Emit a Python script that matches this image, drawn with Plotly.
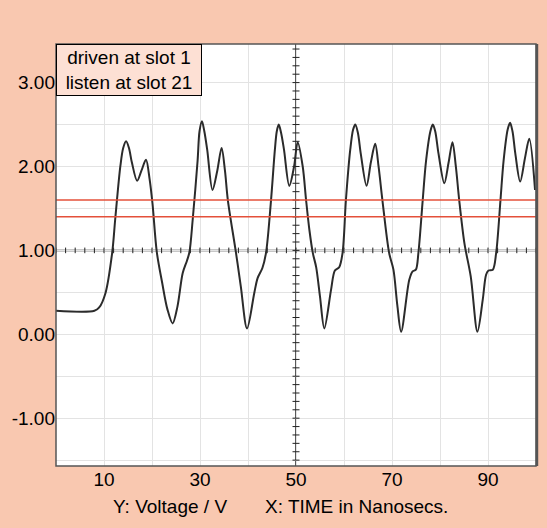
import numpy as np
import plotly.graph_objects as go

# Waveform
time_ns = [0, 8.0, 9.0, 10.3, 11.7, 12.35, 13.4, 14.0, 14.6, 15.2, 15.8, 16.9, 17.8, 18.75, 19.5, 20.1, 21.0,
           22.1, 23.2, 24.3, 25.3, 26.4, 27.3, 27.8, 28.5, 29.5, 29.9, 30.4, 30.9, 31.5, 32.6, 33.6, 34.5,
           35.2, 35.8, 37.5, 38.5, 39.8, 41.3, 42.0, 43.0, 43.75, 44.8, 45.6, 46.0, 46.4, 46.9, 47.5, 48.6,
           49.6, 50.35, 51.4, 52.1, 52.8, 53.5, 54.2, 55.0, 55.9, 57.3, 58.1, 59.0, 59.7, 60.4,
           61.3, 61.9, 62.35, 62.9, 63.5, 64.7, 65.6, 66.5, 67.2, 68.0, 69.4, 70.3, 71.1, 71.9, 73.6, 74.3,
           74.97, 75.5, 76.4, 77.1, 78.0, 78.5, 79.0, 79.7, 80.9, 81.8, 82.6, 83.3, 84.0, 85.1, 86.4, 87.8,
           88.9, 89.6, 90.1, 91.0, 91.7, 92.6, 93.25, 94.1, 94.6, 95.1, 95.7, 96.7, 97.7, 98.6, 99.8]
voltage = [0.28, 0.28, 0.32, 0.49, 0.97, 1.38, 2.0, 2.22, 2.30, 2.22, 2.05, 1.83, 1.95, 2.08, 1.85, 1.56, 0.98,
           0.62, 0.30, 0.13, 0.33, 0.73, 0.88, 0.98, 1.38, 2.07, 2.42, 2.54, 2.42, 2.20, 1.72, 1.95, 2.22,
           1.95, 1.60, 0.97, 0.57, 0.07, 0.49, 0.67, 0.79, 0.97, 1.60, 2.20, 2.42, 2.50, 2.40, 2.20, 1.77,
           2.00, 2.29, 2.00, 1.60, 1.24, 0.97, 0.80, 0.45, 0.07, 0.53, 0.76, 0.80, 0.97, 1.60,
           2.20, 2.44, 2.50, 2.40, 2.15, 1.77, 2.05, 2.27, 2.00, 1.60, 0.97, 0.77, 0.35, 0.03, 0.65, 0.75,
           0.77, 0.97, 1.60, 2.07, 2.42, 2.50, 2.42, 2.15, 1.80, 2.05, 2.29, 2.00, 1.60, 1.08, 0.69, 0.03,
           0.41, 0.71, 0.76, 0.77, 0.97, 1.60, 2.07, 2.44, 2.52, 2.42, 2.15, 1.82, 2.10, 2.33, 1.72]

threshold_levels = [1.4, 1.6]
x_ticks = [10, 20, 30, 40, 50, 60, 70, 80, 90]
x_labels = ["10", "", "30", "", "50", "", "70", "", "90"]
y_ticks = [-1.5, -1.0, -0.5, 0.0, 0.5, 1.0, 1.5, 2.0, 2.5, 3.0]
y_labels = ["", "-1.00", "", "0.00", "", "1.00", "", "2.00", "", "3.00"]
cross_x = 50
cross_y = 1.0
legend_lines = ["driven at slot 1", "listen at slot 21"]
y_caption = "Y: Voltage / V"
x_caption = "X: TIME in Nanosecs."

XR = [0, 100]
YR = [-1.57, 3.46]
PEACH = "#F9C8B0"
FONT = "Liberation Sans, Arial, sans-serif"
FS = 19

fig = go.Figure()

# crosshair tick marks
hx = np.arange(0, 100.01, 2)
fig.add_trace(go.Scatter(x=hx, y=[cross_y] * len(hx), mode="markers",
                         marker=dict(symbol="line-ns", size=4, line=dict(color="#222", width=1)),
                         hoverinfo="skip", showlegend=False))
vy = np.arange(-1.5, 3.46, 0.1)
fig.add_trace(go.Scatter(x=[cross_x] * len(vy), y=vy, mode="markers",
                         marker=dict(symbol="line-ew", size=5, line=dict(color="#222", width=1)),
                         hoverinfo="skip", showlegend=False))

for lvl in threshold_levels:
    fig.add_shape(type="line", xref="paper", x0=0, x1=1, yref="y", y0=lvl, y1=lvl,
                  line=dict(color="#E4503A", width=1.5), layer="above")

fig.add_shape(type="line", xref="paper", x0=0, x1=1, yref="y", y0=cross_y, y1=cross_y,
              line=dict(color="#222", width=1.5), layer="below")
fig.add_shape(type="line", xref="x", x0=cross_x, x1=cross_x, yref="paper", y0=0, y1=1,
              line=dict(color="#222", width=1.5), layer="below")

fig.add_trace(go.Scatter(x=time_ns, y=voltage, mode="lines",
                         line=dict(color="#2b2b2b", width=2, shape="spline", smoothing=0.9),
                         hoverinfo="skip", showlegend=False))

# plot frame
fig.add_shape(type="rect", xref="paper", yref="paper", x0=0, x1=1, y0=0, y1=1,
              line=dict(color="#555", width=1.5), layer="above")
fig.add_shape(type="line", xref="paper", yref="paper", x0=1.002, x1=1.002, y0=0, y1=1,
              line=dict(color="#555", width=2.5), layer="above")

fig.add_annotation(xref="paper", yref="paper", x=0, y=1, xanchor="left", yanchor="top",
                   text="<br>".join(legend_lines), showarrow=False, align="center",
                   width=140, height=46,
                   font=dict(family=FONT, size=FS, color="black"),
                   bgcolor="#FDE0D4", bordercolor="black", borderwidth=1, borderpad=2)

fig.add_annotation(xref="paper", yref="paper", x=0.1138, y=-0.095, xanchor="left", yanchor="middle",
                   text=y_caption, showarrow=False,
                   font=dict(family=FONT, size=FS, color="black"))
fig.add_annotation(xref="paper", yref="paper", x=0.432, y=-0.095, xanchor="left", yanchor="middle",
                   text=x_caption, showarrow=False,
                   font=dict(family=FONT, size=FS, color="black"))

fig.update_layout(
    width=547, height=528,
    margin=dict(l=56, r=11, t=44, b=62),
    paper_bgcolor=PEACH, plot_bgcolor="white",
    font=dict(family=FONT, size=FS, color="black"),
    xaxis=dict(range=XR, tickvals=x_ticks, ticktext=x_labels, showgrid=True,
               gridcolor="#e3e3e3", gridwidth=1, zeroline=False, showline=False, ticks=""),
    yaxis=dict(range=YR, tickvals=y_ticks, ticktext=y_labels, showgrid=True,
               gridcolor="#e3e3e3", gridwidth=1, zeroline=False, showline=False, ticks=""),
)

fig.write_html("out.html", config={"displayModeBar": False},
               post_script="document.body.style.margin='0';document.body.style.padding='0';")
